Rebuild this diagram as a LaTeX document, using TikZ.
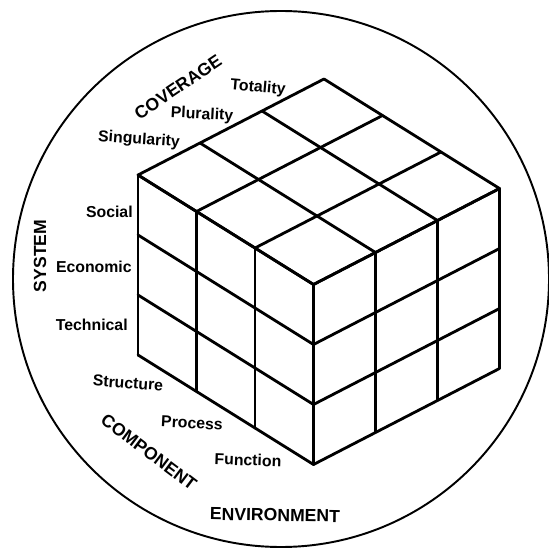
\documentclass[tikz,border=0pt]{standalone}
\usepackage{fontspec}
\setmainfont{Liberation Sans}

\begin{document}
\begin{tikzpicture}[line cap=round, line join=round,
    cubeline/.style={line width=1.6pt},
    lbl/.style={font=\bfseries\fontsize{9}{10}\selectfont, inner sep=0pt},
    axislbl/.style={font=\bfseries\fontsize{10}{12}\selectfont, inner sep=0pt}]

        % --- Cornice della figura ---
        \useasboundingbox (0, 0) rectangle (10.98, 10.94);
        \draw[line width=1.1pt] (5.62, 5.36) circle (5.36);

        % ==========================================
        % 1. CUBO 3x3x3 (a = componente, b = copertura, c = sistema)
        % ==========================================
        \begin{scope}[shift={(2.76, 3.84)}, x={(1.17cm, -0.73cm)}, y={(1.24cm, 0.64cm)}, z={(0cm, 1.2cm)}]

            % --- Faccia superiore ---
            \foreach \i in {0,...,3} {
                \draw[cubeline] (\i, 0, 3) -- (\i, 3, 3);
                \draw[cubeline] (0, \i, 3) -- (3, \i, 3);
            }

            % --- Faccia sinistra ---
            \foreach \i in {0,...,3} {
                \draw[cubeline] (\i, 0, 0) -- (\i, 0, 3);
                \draw[cubeline] (0, 0, \i) -- (3, 0, \i);
            }

            % --- Faccia destra ---
            \foreach \i in {0,...,3} {
                \draw[cubeline] (3, \i, 0) -- (3, \i, 3);
                \draw[cubeline] (3, 0, \i) -- (3, 3, \i);
            }
        \end{scope}

        % ==========================================
        % 2. ETICHETTE
        % ==========================================

        % --- Coverage ---
        \node[axislbl, rotate=34] (coverage) at (3.56, 9.20) {COVERAGE};
        \node[lbl, rotate=-5] (totality) at (5.16, 9.18) {Totality};
        \node[lbl, rotate=-3] (plurality) at (4.04, 8.64) {Plurality};
        \node[lbl, rotate=-4] (singularity) at (2.78, 8.14) {Singularity};

        % --- System ---
        \node[axislbl, rotate=90] (system) at (0.80, 5.82) {SYSTEM};
        \node[lbl, anchor=east] (social) at (2.66, 6.70) {Social};
        \node[lbl, anchor=east] (economic) at (2.64, 5.60) {Economic};
        \node[lbl, anchor=east] (technical) at (2.56, 4.44) {Technical};

        % --- Component ---
        \node[lbl, rotate=-4] (structure) at (2.56, 3.28) {Structure};
        \node[lbl, rotate=-3] (process) at (3.84, 2.48) {Process};
        \node[lbl, rotate=-2] (function) at (4.96, 1.74) {Function};
        \node[axislbl, rotate=-37] (component) at (2.98, 1.90) {COMPONENT};

        % --- Environment ---
        \node[axislbl, rotate=-1] (environment) at (5.50, 0.64) {ENVIRONMENT};

    \end{tikzpicture}
\end{document}
